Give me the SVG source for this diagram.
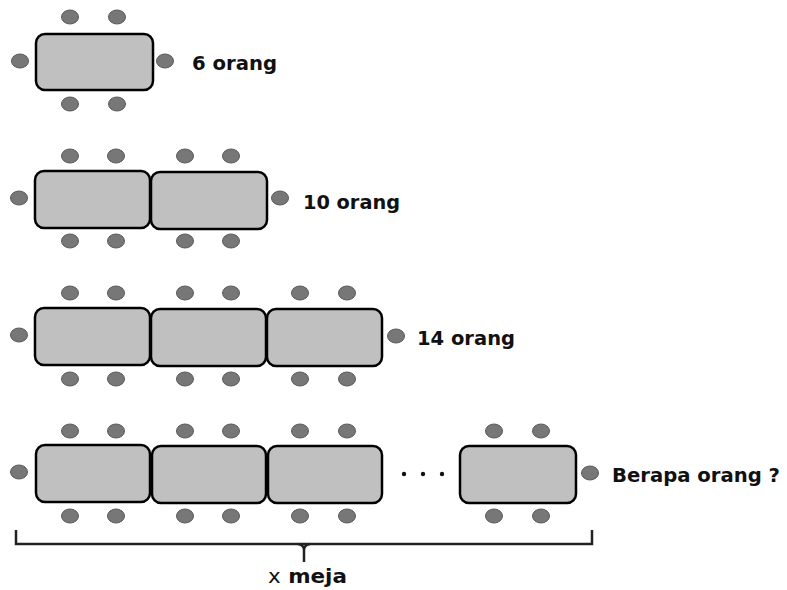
<svg xmlns="http://www.w3.org/2000/svg" width="787" height="590" viewBox="0 0 787 590">
<defs>
<style>
.t{fill:#c0c0c0;stroke:#000;stroke-width:2.5}
.c{fill:#777;stroke:#5a5a5a;stroke-width:1}
.lbl{font-family:"DejaVu Sans",Verdana,sans-serif;font-weight:bold;font-size:19.5px;fill:#111}
.br{fill:none;stroke:#222;stroke-width:2.5}
</style>
<ellipse id="ch" class="c" cx="0" cy="0" rx="8.5" ry="7"/>
</defs>
<rect width="787" height="590" fill="#fff"/>

<g id="row1">
<rect class="t" x="36" y="34" width="117" height="56" rx="9"/>
<use href="#ch" x="70" y="17"/><use href="#ch" x="117" y="17"/>
<use href="#ch" x="70" y="104"/><use href="#ch" x="117" y="104"/>
<use href="#ch" x="20" y="61"/><use href="#ch" x="165" y="61"/>
<text class="lbl" x="192" y="70" textLength="85" lengthAdjust="spacingAndGlyphs">6 orang</text>
</g>

<g id="row2">
<rect class="t" x="35" y="171" width="115" height="57" rx="9"/>
<rect class="t" x="151" y="172" width="116" height="57" rx="9"/>
<use href="#ch" x="70" y="156"/><use href="#ch" x="116" y="156"/>
<use href="#ch" x="185" y="156"/><use href="#ch" x="231" y="156"/>
<use href="#ch" x="70" y="241"/><use href="#ch" x="116" y="241"/>
<use href="#ch" x="185" y="241"/><use href="#ch" x="231" y="241"/>
<use href="#ch" x="19" y="198"/><use href="#ch" x="280" y="198"/>
<text class="lbl" x="303" y="209" textLength="97" lengthAdjust="spacingAndGlyphs">10 orang</text>
</g>

<g id="row3">
<rect class="t" x="35" y="308" width="115" height="57" rx="9"/>
<rect class="t" x="151" y="309" width="115" height="57" rx="9"/>
<rect class="t" x="267" y="309" width="115" height="57" rx="9"/>
<use href="#ch" x="70" y="293"/><use href="#ch" x="116" y="293"/>
<use href="#ch" x="185" y="293"/><use href="#ch" x="231" y="293"/>
<use href="#ch" x="300" y="293"/><use href="#ch" x="347" y="293"/>
<use href="#ch" x="70" y="379"/><use href="#ch" x="116" y="379"/>
<use href="#ch" x="185" y="379"/><use href="#ch" x="231" y="379"/>
<use href="#ch" x="300" y="379"/><use href="#ch" x="347" y="379"/>
<use href="#ch" x="19" y="335"/><use href="#ch" x="396" y="336"/>
<text class="lbl" x="417" y="345" textLength="98" lengthAdjust="spacingAndGlyphs">14 orang</text>
</g>

<g id="row4">
<rect class="t" x="36" y="445" width="114" height="57" rx="9"/>
<rect class="t" x="152" y="446" width="114" height="57" rx="9"/>
<rect class="t" x="268" y="446" width="114" height="57" rx="9"/>
<rect class="t" x="460" y="446" width="116" height="57" rx="9"/>
<use href="#ch" x="70" y="431"/><use href="#ch" x="116" y="431"/>
<use href="#ch" x="185" y="431"/><use href="#ch" x="231" y="431"/>
<use href="#ch" x="300" y="431"/><use href="#ch" x="347" y="431"/>
<use href="#ch" x="494" y="431"/><use href="#ch" x="541" y="431"/>
<use href="#ch" x="70" y="516"/><use href="#ch" x="116" y="516"/>
<use href="#ch" x="185" y="516"/><use href="#ch" x="231" y="516"/>
<use href="#ch" x="300" y="516"/><use href="#ch" x="347" y="516"/>
<use href="#ch" x="494" y="516"/><use href="#ch" x="541" y="516"/>
<use href="#ch" x="19" y="472"/><use href="#ch" x="590" y="473"/>
<circle cx="404" cy="474" r="2.2" fill="#111"/>
<circle cx="423" cy="474" r="2.2" fill="#111"/>
<circle cx="442" cy="474" r="2.2" fill="#111"/>
<text class="lbl" x="612" y="482" textLength="168" lengthAdjust="spacingAndGlyphs">Berapa orang ?</text>
</g>

<g id="brace">
<path class="br" d="M16 530 V544 H592 V530"/>
<path class="br" d="M298 544 Q304 545 304 550 V562 M310 544 Q304 545 304 550"/>
<text class="lbl" x="268" y="583" textLength="79" lengthAdjust="spacingAndGlyphs"><tspan font-weight="normal">x</tspan> meja</text>
</g>
</svg>
